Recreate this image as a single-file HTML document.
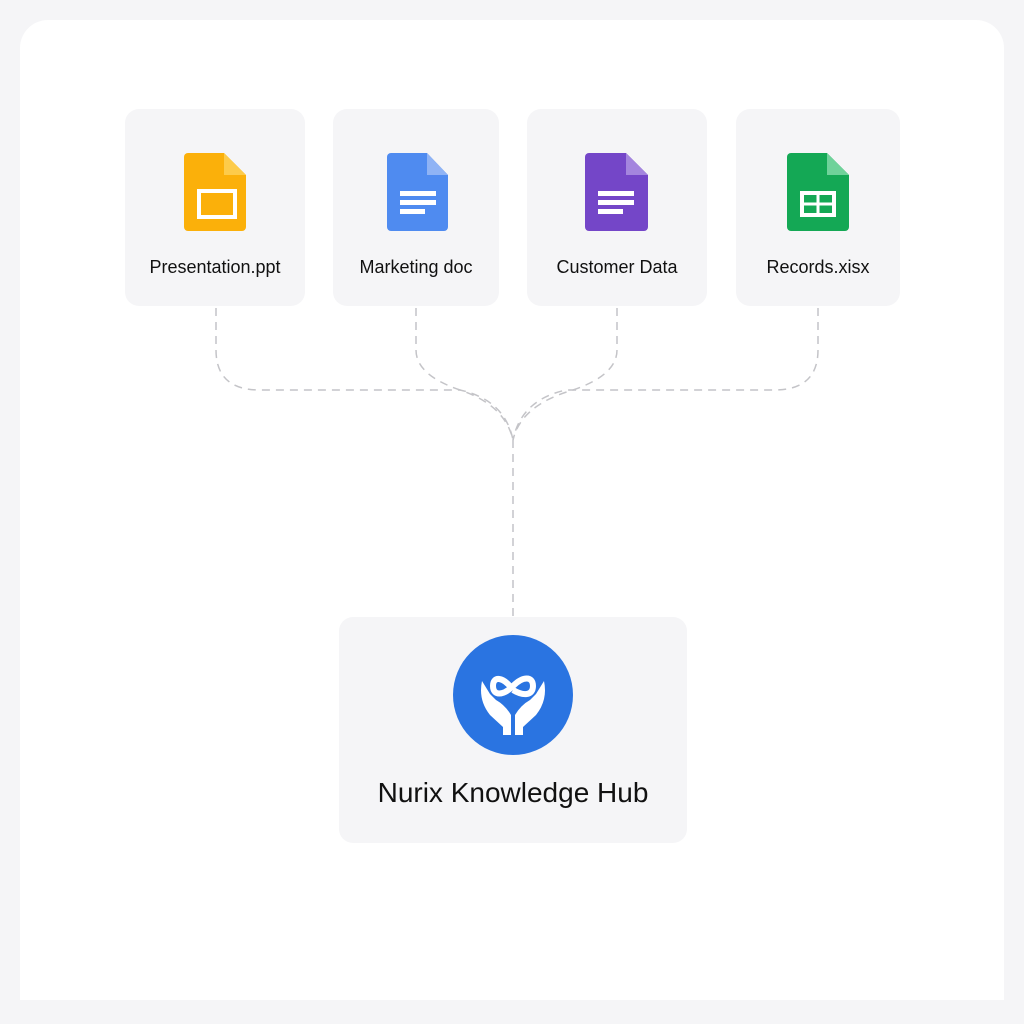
<!DOCTYPE html>
<html><head><style>
body{margin:0;width:1024px;height:1024px;background:#f5f5f7;position:relative;overflow:hidden;font-family:"Liberation Sans",sans-serif}
.main{position:absolute;left:20px;top:20px;width:984px;height:980px;background:#fff;border-radius:28px 28px 0 0}
.card{position:absolute;background:#f5f5f7;border-radius:14px}
.lbl{position:absolute;left:0;right:0;text-align:center;font-size:18px;color:#111;top:148px}
svg{position:absolute;left:0;top:0}
</style></head><body>
<div class="main"></div>
<div class="card" style="left:125px;top:109px;width:180px;height:197px"><div class="lbl">Presentation.ppt</div></div>
<div class="card" style="left:333px;top:109px;width:166px;height:197px"><div class="lbl">Marketing doc</div></div>
<div class="card" style="left:527px;top:109px;width:180px;height:197px"><div class="lbl">Customer Data</div></div>
<div class="card" style="left:736px;top:109px;width:164px;height:197px"><div class="lbl">Records.xisx</div></div>
<div class="card" style="left:339px;top:617px;width:348px;height:226px"><div class="lbl" style="top:160px;font-size:28px">Nurix Knowledge Hub</div></div>
<svg width="1024" height="1024" viewBox="0 0 1024 1024">
<g fill="none" stroke="#c4c4c8" stroke-width="1.5" stroke-dasharray="8 6">
<path d="M216 308 V350 Q216 390 260 390 H460 Q505 400 513 440"/>
<path d="M416 308 V350 Q416 375 460 390 Q505 405 513 440"/>
<path d="M617 308 V350 Q617 375 573 390 Q521 405 513 440"/>
<path d="M818 308 V350 Q818 390 774 390 H566 Q521 400 513 440"/>
<path d="M513 440 V617"/>
</g>
<!-- slides -->
<path d="M188 153 H224 L246 175 V227 a4 4 0 0 1 -4 4 H188 a4 4 0 0 1 -4 -4 V157 a4 4 0 0 1 4 -4z" fill="#fbb00a"/>
<path d="M224 153 L246 175 H224z" fill="#fdcb4a"/>
<rect x="199" y="191" width="36" height="26" fill="none" stroke="#fff" stroke-width="4"/>
<!-- doc -->
<path d="M391 153 H427 L448 175 V227 a4 4 0 0 1 -4 4 H391 a4 4 0 0 1 -4 -4 V157 a4 4 0 0 1 4 -4z" fill="#4f8bf0"/>
<path d="M427 153 L448 175 H427z" fill="#8fb3f5"/>
<g fill="#fff"><rect x="400" y="191" width="36" height="5"/><rect x="400" y="200" width="36" height="5"/><rect x="400" y="209" width="25" height="5"/></g>
<!-- purple -->
<path d="M589 153 H626 L648 175 V227 a4 4 0 0 1 -4 4 H589 a4 4 0 0 1 -4 -4 V157 a4 4 0 0 1 4 -4z" fill="#7446c8"/>
<path d="M626 153 L648 175 H626z" fill="#a485de"/>
<g fill="#fff"><rect x="598" y="191" width="36" height="5"/><rect x="598" y="200" width="36" height="5"/><rect x="598" y="209" width="25" height="5"/></g>
<!-- sheet -->
<path d="M791 153 H827 L849 175 V227 a4 4 0 0 1 -4 4 H791 a4 4 0 0 1 -4 -4 V157 a4 4 0 0 1 4 -4z" fill="#14a855"/>
<path d="M827 153 L849 175 H827z" fill="#6fd29a"/>
<rect x="802" y="193" width="32" height="22" fill="none" stroke="#fff" stroke-width="4"/>
<path d="M818 193 V215 M802 204 H834" stroke="#fff" stroke-width="3"/>
<!-- hub -->
<circle cx="513" cy="695" r="60" fill="#2a74e1"/>
<path d="M482 681 Q478 700 490 715 L503 727 V735 H511 V715 Q505 705 496 700 L490 694 Z" fill="#fff"/>
<path d="M544 681 Q548 700 536 715 L523 727 V735 H515 V715 Q521 705 530 700 L536 694 Z" fill="#fff"/>
<path d="M513 690 C503 676 493 676 493 686 C493 696 503 696 513 686 C523 676 533 676 533 686 C533 696 523 696 513 690" fill="none" stroke="#fff" stroke-width="6"/>
</svg>
</body></html>
